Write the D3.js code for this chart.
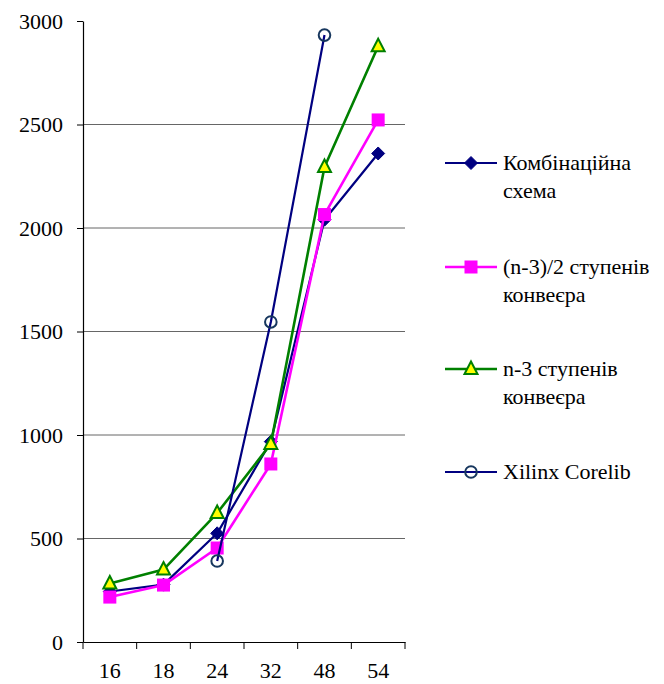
<!DOCTYPE html>
<html>
<head>
<meta charset="utf-8">
<script src="https://cdn.jsdelivr.net/npm/d3@7"></script>
<style>
  html, body { margin: 0; padding: 0; background: #fff; }
  svg { display: block; }
</style>
</head>
<body>
<svg id="chart" width="664" height="684" font-family="Liberation Serif"></svg>
<script>
// Categories (bit widths) along the x axis
const categories = ["16", "18", "24", "32", "48", "54"];

// Series values; null where a series has no measurement
const combinational = [244, 277, 525, 968, 2040, 2360];
const pipeHalf      = [217, 275, 454, 860, 2065, 2522];
const pipeFull      = [283, 350, 623, 957, 2295, 2878];
const xilinxCorelib = [null, null, 391, 1546, 2932, null];

// Y axis tick values
const yTicks = [0, 500, 1000, 1500, 2000, 2500, 3000];

const FONT = "Liberation Serif";

const series = [
  { name: ["Комбінаційна", "схема"], values: combinational, color: "#000080", width: 2.2, marker: "diamond" },
  { name: ["(n-3)/2 ступенів", "конвеєра"], values: pipeHalf, color: "#FF00FF", width: 2.6, marker: "square" },
  { name: ["n-3 ступенів", "конвеєра"], values: pipeFull, color: "#008000", width: 2.6, marker: "triangle" },
  { name: ["Xilinx Corelib"], values: xilinxCorelib, color: "#000080", width: 2.2, marker: "circle" }
];

const svg = d3.select("#chart");
const plot = { left: 83, right: 405, top: 21, bottom: 642 };

const x = d3.scaleBand().domain(categories).range([plot.left, plot.right]).padding(0);
const y = d3.scaleLinear().domain([0, 3000]).range([plot.bottom, plot.top]);

// Horizontal gridlines (no line at the top value)
svg.append("g")
  .selectAll("line")
  .data(yTicks.filter(v => v > 0 && v < 3000))
  .join("line")
  .attr("x1", plot.left).attr("x2", plot.right)
  .attr("y1", d => y(d)).attr("y2", d => y(d))
  .attr("stroke", "#666").attr("stroke-width", 1);

// Y axis
const yAxis = svg.append("g")
  .attr("transform", `translate(${plot.left},0)`)
  .call(d3.axisLeft(y).tickValues(yTicks).tickSize(6).tickSizeOuter(0).tickPadding(14).tickFormat(d3.format("d")))
  .attr("font-family", FONT).attr("font-size", 22);
yAxis.select(".domain").attr("stroke", "#000").attr("stroke-width", 1.2);
yAxis.selectAll(".tick line").attr("stroke", "#000");
yAxis.selectAll(".tick text").attr("fill", "#000");

// X axis: labels centred on categories, tick marks on category edges
const xAxis = svg.append("g")
  .attr("transform", `translate(0,${plot.bottom})`)
  .call(d3.axisBottom(x).tickSize(0).tickSizeOuter(0).tickPadding(20))
  .attr("font-family", FONT).attr("font-size", 22);
xAxis.select(".domain").attr("stroke", "#000").attr("stroke-width", 1.2);
xAxis.selectAll(".tick text").attr("fill", "#000");
const edges = categories.map(c => x(c)).concat([x(categories[categories.length - 1]) + x.bandwidth()]);
xAxis.selectAll("line.edge")
  .data(edges)
  .join("line")
  .attr("class", "edge")
  .attr("x1", d => d).attr("x2", d => d)
  .attr("y1", 0).attr("y2", 7)
  .attr("stroke", "#000").attr("stroke-width", 1);

const cx = c => x(c) + x.bandwidth() / 2;

// Marker drawing
function drawMarker(g, type, color) {
  if (type === "diamond") {
    g.append("path").attr("d", "M0,-6.5L6.5,0L0,6.5L-6.5,0Z").attr("fill", color).attr("stroke", color).attr("stroke-width", 1);
  } else if (type === "square") {
    g.append("rect").attr("x", -6.5).attr("y", -6.5).attr("width", 13).attr("height", 13).attr("fill", "#FF00FF");
  } else if (type === "triangle") {
    g.append("path").attr("d", "M0,-7.5L6.5,5L-6.5,5Z").attr("fill", "#FFFF00").attr("stroke", "#008000").attr("stroke-width", 2);
  } else if (type === "circle") {
    g.append("circle").attr("r", 5.8).attr("fill", "none").attr("stroke", "#17375E").attr("stroke-width", 2);
  }
}

const line = d3.line()
  .defined(d => d.v !== null)
  .x(d => cx(d.c))
  .y(d => y(d.v));

series.forEach(s => {
  const pts = categories.map((c, i) => ({ c, v: s.values[i] }));
  svg.append("path")
    .datum(pts)
    .attr("d", line)
    .attr("fill", "none")
    .attr("stroke", s.color)
    .attr("stroke-width", s.width)
    .attr("stroke-linejoin", "round");
  pts.filter(p => p.v !== null).forEach(p => {
    const g = svg.append("g").attr("transform", `translate(${cx(p.c)},${y(p.v)})`);
    drawMarker(g, s.marker, s.color);
  });
});

// Legend
const legendRows = [163, 267, 369, 472];
series.forEach((s, i) => {
  const ly = legendRows[i];
  const lg = svg.append("g");
  lg.append("line")
    .attr("x1", 445).attr("x2", 497)
    .attr("y1", ly).attr("y2", ly)
    .attr("stroke", s.color).attr("stroke-width", s.width);
  drawMarker(lg.append("g").attr("transform", `translate(471,${ly})`), s.marker, s.color);
  s.name.forEach((t, j) => {
    lg.append("text")
      .attr("x", 503)
      .attr("y", ly + 7 + j * 28)
      .attr("font-family", FONT)
      .attr("font-size", 22)
      .attr("fill", "#000")
      .text(t);
  });
});
</script>
</body>
</html>
